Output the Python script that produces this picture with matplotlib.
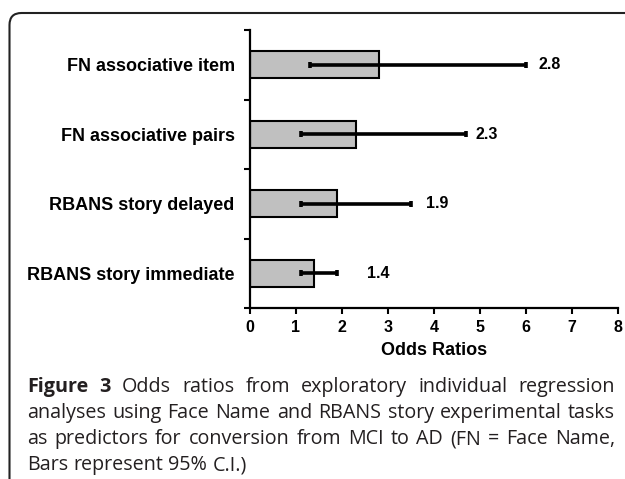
import numpy as np
import matplotlib.pyplot as plt
from matplotlib.patches import FancyBboxPatch
from matplotlib.transforms import IdentityTransform

categories = ["FN associative item", "FN associative pairs",
              "RBANS story delayed", "RBANS story immediate"]
odds = [2.8, 2.3, 1.9, 1.4]
ci_low = [1.3, 1.1, 1.1, 1.1]
ci_high = [6.0, 4.7, 3.5, 1.9]
value_labels = ["2.8", "2.3", "1.9", "1.4"]
xticks = [0, 1, 2, 3, 4, 5, 6, 7, 8]

caption = [
    "Figure 3 Odds ratios from exploratory individual regression",
    "analyses using Face Name and RBANS story experimental tasks",
    "as predictors for conversion from MCI to AD (FN = Face Name,",
    "Bars represent 95% C.I.)",
]

W, H = 625, 479
fig = plt.figure(figsize=(W / 100, H / 100), dpi=100)
ax = fig.add_axes([250 / W, 1 - 308 / H, 368 / W, 278 / H])

y = np.arange(len(categories))
odds = np.array(odds)
err = [odds - np.array(ci_low), np.array(ci_high) - odds]

ax.barh(y, odds, height=0.39, color="#c0c0c0", edgecolor="black", linewidth=1.5, zorder=2)
ax.errorbar(odds, y, xerr=err, fmt="none", ecolor="black", elinewidth=2.6,
            capsize=2.3, capthick=2.6, zorder=3)

# label offsets (points) as placed in the original
pads = [9, 7, 11, 21]
for yi, hi, lab, p in zip(y, ci_high, value_labels, pads):
    ax.annotate(lab, (hi, yi), xytext=(p, 0), textcoords="offset points",
                va="center", ha="left", fontsize=11.5, fontweight="bold",
                family="Liberation Sans")

ax.set_xlim(0, 8)
ax.set_ylim(len(categories) - 0.5, -0.5)
ax.set_xticks(xticks)
ax.set_xticklabels([str(t) for t in xticks], fontsize=11.5, fontweight="bold",
                   family="Liberation Sans")
ax.set_yticks(np.arange(len(categories) + 1) - 0.5)
ax.set_yticklabels([])
ax.set_yticks(y, minor=True)
ax.set_yticklabels(categories, minor=True, fontsize=13, fontweight="bold",
                   family="Liberation Sans")
ax.tick_params(axis="y", which="major", direction="out", length=4, width=1.5)
ax.tick_params(axis="y", which="minor", length=0, pad=11)
ax.tick_params(axis="x", direction="out", length=4, width=1.5, pad=5)
for s in ["top", "right"]:
    ax.spines[s].set_visible(False)
for s in ["left", "bottom"]:
    ax.spines[s].set_linewidth(1.6)
ax.set_xlabel("Odds Ratios", fontsize=13, fontweight="bold", family="Liberation Sans",
              labelpad=5)

# rounded frame around the figure panel
box = FancyBboxPatch((9.5, -60), 700, H - 13 + 60, boxstyle="round,pad=0,rounding_size=12",
                     transform=IdentityTransform(), facecolor="none",
                     edgecolor="#222222", linewidth=1.5)
fig.patches.append(box)

# justified caption
fig.canvas.draw()
r = fig.canvas.get_renderer()
left, right = 27, 615
baselines = [392, 418, 444, 470]
fs = 14.2
for i, line in enumerate(caption):
    words = line.split()
    texts = []
    for j, w in enumerate(words):
        bold = i == 0 and j < 2
        t = fig.text(0, 1 - baselines[i] / H, w, fontsize=fs, family="Open Sans",
                     fontweight="bold" if bold else "normal", color="#231f20",
                     va="baseline", ha="left")
        texts.append(t)
    widths = [t.get_window_extent(r).width for t in texts]
    if i < len(caption) - 1:
        gap = (right - left - sum(widths)) / (len(words) - 1)
    else:
        sp = fig.text(0, 0, "a a", fontsize=fs, family="Open Sans")
        sa = fig.text(0, 0, "aa", fontsize=fs, family="Open Sans")
        gap = sp.get_window_extent(r).width - sa.get_window_extent(r).width
        sp.remove()
        sa.remove()
    x = left
    for t, w in zip(texts, widths):
        t.set_x(x / W)
        x += w + gap

fig.savefig("out.png", dpi=100)
